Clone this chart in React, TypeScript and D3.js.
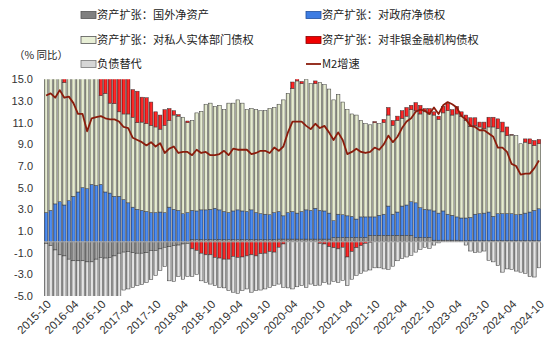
import React from 'react';
import * as d3 from 'd3';

// ---- data (contributions to M2 growth, % y/y), monthly 2015-10 .. 2024-10 ----
const months: string[] = d3.timeMonth
  .range(new Date(2015, 9, 1), new Date(2024, 10, 1))
  .map((d) => d3.timeFormat('%Y-%m')(d));

const tickLabels = [
  '2015-10', '2016-04', '2016-10', '2017-04', '2017-10', '2018-04', '2018-10',
  '2019-04', '2019-10', '2020-04', '2020-10', '2021-04', '2021-10', '2022-04',
  '2022-10', '2023-04', '2023-10', '2024-04', '2024-10',
];

const yTicks = [-5, -3, -1, 1, 3, 5, 7, 9, 11, 13, 15];

// 资产扩张：国外净资产
const foreignNet = [
  -0.15, -0.35, -0.75, -1.2, -1.3, -1.6, -1.75, -1.75, -1.75, -1.85, -1.85, -1.6, -1.45, -1.5, -1.45, -1.3,
  -1.05, -0.95, -0.9, -1.0, -1.05, -1.05, -1.0, -0.8, -0.8, -0.65, -0.5, -0.45, -0.35, -0.3, -0.2, -0.15,
  0.2, 0.2, 0.2, 0.2, 0.2, 0.2, 0.2, 0.2, 0.2, 0.2, 0.2, 0.2, 0.2, 0.2, 0.2, 0.2, 0.2, 0.2, 0.2,
  0.25, 0.25, 0.25, 0.25, 0.25, 0.25, 0.25, 0.25, 0.25, 0.25, 0.25, 0.25,
  0.4, 0.4, 0.4, 0.4, 0.4, 0.4, 0.4, 0.4,
  0.6, 0.6, 0.6, 0.6, 0.6, 0.6, 0.6, 0.6, 0.6, 0.6,
  0.4, 0.4, 0.4, 0.4,
  0.15, 0.15, 0.15, 0.15, 0.15, 0.15,
  0.1, 0.1, 0.1, 0.1, 0.1, 0.1, 0.1, 0.1, 0.1, 0.1, 0.1, 0.1, 0.1, 0.1, 0.1, 0.1, 0.1, 0.1,
];

// 资产扩张：对政府净债权
const govClaims = [
  2.7, 2.9, 3.5, 3.7, 3.4, 3.8, 4.2, 4.6, 5.0, 4.9, 5.3, 5.2, 5.3, 4.6, 4.5, 4.2,
  4.2, 3.9, 3.6, 3.2, 3.0, 2.9, 2.8, 2.7, 2.7, 2.75, 2.7, 3.2, 3.0, 2.9, 2.6, 2.7,
  2.7, 2.65, 2.75, 2.75, 2.8, 2.9, 2.75, 2.6, 2.5, 2.65, 2.75, 2.65, 2.6, 2.75, 2.5, 2.4, 2.35, 2.3, 2.5,
  2.55, 2.15, 2.45, 2.55, 2.4, 2.55, 2.7, 2.65, 2.85, 2.65, 2.6, 2.4,
  1.55, 2.15, 2.1, 2.0, 1.95, 1.7, 1.9, 1.9,
  1.7, 1.7, 1.85, 1.95, 2.7, 1.95, 2.15, 2.7, 2.8, 3.1,
  3.2, 2.75, 2.6, 2.55,
  2.7, 2.5, 2.7, 2.4, 2.3, 2.15,
  2.1, 2.1, 2.15, 2.45, 2.5, 2.55, 2.65, 2.25, 2.5, 2.5, 2.5, 2.5, 2.4, 2.45, 2.55, 2.65, 2.8, 2.95,
];

// 资产扩张：对私人实体部门债权
const privateClaims = [
  12.6, 12.4, 11.8, 11.6, 11.3, 11.4, 11.0, 10.7, 10.3, 10.4, 9.9, 10.0, 8.2, 9.1, 8.3, 8.55,
  7.8, 7.9, 8.2, 8.3, 8.0, 8.15, 8.1, 8.05, 7.9, 7.65, 8.05, 8.0, 8.7, 8.7, 8.9, 8.3,
  8.3, 9.05, 9.1, 9.75, 9.8, 9.4, 9.65, 9.4, 10.1, 9.95, 10.15, 9.95, 9.4, 9.35, 9.5, 9.5, 9.55, 9.8, 9.7,
  9.9, 10.7, 11.0, 11.35, 12.2, 11.8, 12.05, 11.7, 11.5, 11.8, 11.65, 11.45,
  11.15, 11.05, 10.4, 9.8, 9.45, 9.6, 8.9, 8.6,
  8.5, 8.7, 8.45, 8.45, 8.4, 8.2, 8.45, 8.1, 8.2, 8.5,
  8.5, 8.65, 9.0, 8.85,
  8.85, 8.65, 9.05, 9.55, 9.25, 9.5,
  9.4, 9.0, 8.4, 8.2, 8.0, 7.8, 7.85, 8.25, 7.85, 7.55, 7.2, 7.25, 7.3, 6.5, 6.55, 6.3, 6.0, 6.0,
];

// 资产扩张：对非银金融机构债权
const nonBankClaims = [
  3.0, 3.2, 3.4, 3.9, 3.8, 3.9, 3.7, 3.4, 3.5, 3.6, 3.5, 3.6, 3.9, 3.7, 3.8, 3.6,
  3.5, 3.4, 3.3, 2.55, 2.9, 2.3, 2.4, 2.15, 1.4, 1.3, 1.45, 1.1, 0.4, 0.15, 0.0, 0.15,
  -0.65, -0.8, -1.05, -1.2, -1.2, -1.45, -1.5, -1.6, -1.6, -1.35, -1.45, -1.4, -1.3, -1.2, -1.3, -1.1, -1.05, -0.9, -0.95,
  -0.5, -0.2, 0.0, 0.6, 0.3, 0.2, 0.0, 0.0, 0.25, -0.15, -0.2, -0.45,
  -0.55, -0.65, -0.5, -1.4, -0.9, -0.55, -0.35, -0.15,
  -0.05, 0.1, 0.0, 0.3, 0.7, 0.45, 0.4, 0.7, 0.8, 0.4,
  0.75, 0.8, 0.3, 0.5,
  0.3, 0.3, 0.6, 0.65, 0.5, 0.7,
  0.4, 0.5, 0.8, 0.7, 0.45, 0.6, 0.9, 0.9, 0.9, 0.9, 0.8, 0.05, 0.0, 0.0, 0.3, 0.45, 0.45, 0.4,
];

// 负债替代
const liabilitySub = [
  -5.2, -5.1, -5.0, -4.8, -4.9, -4.6, -4.5, -4.6, -4.5, -4.3, -4.4, -4.6, -4.7, -4.5, -4.6, -4.8,
  -4.9, -3.5, -3.45, -3.2, -3.0, -2.9, -2.75, -2.7, -2.3, -2.0, -1.8, -3.15, -3.3, -2.9, -3.25, -3.05,
  -2.55, -2.2, -2.55, -2.55, -2.7, -2.6, -2.7, -2.65, -2.9, -3.3, -3.3, -3.1, -3.05, -3.45, -3.2, -3.35, -3.3, -3.3, -3.1,
  -3.4, -4.0, -4.25, -4.35, -4.15, -4.05, -4.2, -3.9, -4.05, -3.85, -3.55, -3.45,
  -3.1, -3.1, -3.05, -2.65, -2.55, -2.55, -2.55, -2.55,
  -2.55, -2.4, -2.4, -2.5, -2.55, -2.25, -1.75, -1.55, -1.4, -1.25,
  -0.95, -0.7, -0.5, -0.6,
  -0.3, -0.1, 0, 0, 0, 0,
  0, -0.3, -0.85, -1.0, -0.95, -0.85, -1.7, -1.85, -2.2, -2.8, -2.5, -2.55, -2.7, -2.8, -2.9, -3.2, -3.25, -2.4,
];

// M2增速
const m2Growth = [
  13.5, 13.7, 13.3,
  14.0, 13.3, 13.4, 12.8, 11.8, 11.8, 10.2, 11.4, 11.5, 11.6, 11.4, 11.3,
  11.3, 11.1, 10.6, 10.5, 9.6, 9.4, 9.2, 8.9, 9.2, 8.8, 9.1, 8.2,
  8.6, 8.8, 8.2, 8.3, 8.3, 8.0, 8.5, 8.2, 8.3, 8.0, 8.0, 8.1,
  8.4, 8.0, 8.6, 8.5, 8.5, 8.5, 8.1, 8.2, 8.4, 8.4, 8.2, 8.7,
  8.4, 8.8, 10.1, 11.1, 11.1, 11.1, 10.7, 10.4, 10.9, 10.5, 10.7, 10.1,
  9.4, 10.1, 9.4, 8.1, 8.3, 8.6, 8.3, 8.2, 8.3, 8.7, 8.5, 9.0,
  9.8, 9.2, 9.7, 10.5, 11.1, 11.4, 12.0, 12.2, 12.1, 11.8, 12.4, 11.8,
  12.6, 12.9, 12.7, 12.4, 11.6, 11.3, 10.7, 10.6, 10.3, 10.3, 10.0, 9.7,
  8.7, 8.7, 8.3, 7.2, 7.0, 6.2, 6.3, 6.3, 6.8, 7.5,
];

const seriesKeys = ['fa', 'gov', 'priv', 'nbfi', 'liab'] as const;
const seriesNames: Record<string, string> = {
  fa: '资产扩张：国外净资产',
  gov: '资产扩张：对政府净债权',
  priv: '资产扩张：对私人实体部门债权',
  nbfi: '资产扩张：对非银金融机构债权',
  liab: '负债替代',
};

const grads: Record<string, [string, string, string]> = {
  fa: ['#5e5e5e', '#a8a8a8', '#7a7a7a'],
  gov: ['#1d4fae', '#4d8ef2', '#2a64cc'],
  priv: ['#9ea386', '#e6ecd2', '#c3c8a8'],
  nbfi: ['#b00000', '#ff2a2a', '#e00000'],
  liab: ['#8e8e8e', '#e4e4e4', '#b8b8b8'],
};

const W = 550;
const H = 355;
const plotTop = 79.3;
const plotBottom = 296;
const plotLeft = 44;
const plotRight = 541;

export default function App() {
  const rows = months.map((m, i) => ({
    fa: foreignNet[i],
    gov: govClaims[i],
    priv: privateClaims[i],
    nbfi: nonBankClaims[i],
    liab: liabilitySub[i],
  }));

  const x = d3
    .scaleBand<number>()
    .domain(d3.range(months.length))
    .range([plotLeft, plotRight])
    .paddingInner(0.22)
    .paddingOuter(0.06);
  const y = d3.scaleLinear().domain([-5, 15]).range([plotBottom, plotTop]);

  const stacked = d3
    .stack<any>()
    .keys(seriesKeys as any)
    .offset(d3.stackOffsetDiverging)(rows);

  const bw = x.bandwidth();
  const line = d3
    .line<number>()
    .x((_, i) => (x(i) as number) + bw / 2)
    .y((d) => y(d))
    .curve(d3.curveLinear);

  const font = '"Liberation Sans", Arial, sans-serif';
  const cjk = '"Noto Sans CJK SC", "Liberation Sans", sans-serif';

  const legendItems = [
    { key: 'fa', x: 81, y: 15 },
    { key: 'gov', x: 306, y: 15 },
    { key: 'priv', x: 81, y: 40 },
    { key: 'nbfi', x: 306, y: 40 },
    { key: 'liab', x: 81, y: 64 },
  ];
  const swatchFill: Record<string, string> = {
    fa: '#808080',
    gov: '#3d7ce2',
    priv: '#e8efd6',
    nbfi: '#f00000',
    liab: '#d6d6d6',
  };
  const swatchStroke: Record<string, string> = {
    fa: '#555',
    gov: '#1f4f9e',
    priv: '#555',
    nbfi: '#8a0000',
    liab: '#777',
  };

  return (
    <svg
      width={W}
      height={H}
      viewBox={`0 0 ${W} ${H}`}
      style={{ position: 'absolute', left: 0, top: 0, background: '#fff' }}
    >
      <defs>
        {Object.entries(grads).map(([k, c]) => (
          <linearGradient key={k} id={`g-${k}`} x1="0" x2="1" y1="0" y2="0">
            <stop offset="0" stopColor={c[0]} />
            <stop offset="0.45" stopColor={c[1]} />
            <stop offset="0.7" stopColor={c[1]} />
            <stop offset="1" stopColor={c[2]} />
          </linearGradient>
        ))}
        <clipPath id="plot-clip">
          <rect x={plotLeft - 2} y={plotTop} width={plotRight - plotLeft + 4} height={plotBottom - plotTop} />
        </clipPath>
      </defs>

      {/* legend */}
      {legendItems.map((it) => (
        <g key={it.key}>
          <rect
            x={it.x}
            y={it.y - 3.5}
            width={15}
            height={7}
            fill={swatchFill[it.key]}
            stroke={swatchStroke[it.key]}
            strokeWidth={0.8}
          />
          <text x={it.x + 16} y={it.y} dy="0.36em" fontSize={11.2} fontFamily={cjk} fill="#222">
            {seriesNames[it.key]}
          </text>
        </g>
      ))}
      <line x1={306} x2={321} y1={64} y2={64} stroke="#8b1c0c" strokeWidth={1.8} />
      <text x={322} y={64} dy="0.36em" fontSize={11.2} fontFamily={cjk} fill="#222">
        M2增速
      </text>
      <text x={14} y={55} dy="0.36em" fontSize={10.5} fontFamily={cjk} fill="#222">
        （% 同比）
      </text>

      {/* y axis labels */}
      {yTicks.map((t) => (
        <text
          key={t}
          x={33}
          y={y(t)}
          dy="0.36em"
          textAnchor="end"
          fontSize={11}
          fontFamily={font}
          fill="#333"
        >
          {t.toFixed(1)}
        </text>
      ))}

      {/* bars */}
      <g clipPath="url(#plot-clip)">
        {stacked.map((s) => (
          <g key={s.key} fill={`url(#g-${s.key})`} stroke="#3a3a3a" strokeWidth={0.5}>
            {s.map((d, i) => {
              const y0 = y(d[0]);
              const y1 = y(d[1]);
              const h = Math.abs(y0 - y1);
              if (h < 0.05) return null;
              return (
                <rect key={i} x={x(i)} y={Math.min(y0, y1)} width={bw} height={h} />
              );
            })}
          </g>
        ))}
        <line x1={plotLeft} x2={plotRight} y1={y(0)} y2={y(0)} stroke="#d0d0d0" strokeWidth={0.8} />
        <path d={line(m2Growth) || ''} fill="none" stroke="#8b1c0c" strokeWidth={1.8} strokeLinejoin="round" />
      </g>

      {/* x axis labels */}
      {tickLabels.map((lab) => {
        const i = months.indexOf(lab);
        const cx = (x(i) as number) + bw / 2 + 3;
        const cy = 302;
        return (
          <text
            key={lab}
            x={cx}
            y={cy}
            textAnchor="end"
            dy="0.35em"
            fontSize={11.5}
            fontFamily={font}
            fill="#333"
            transform={`rotate(-45 ${cx} ${cy})`}
          >
            {lab}
          </text>
        );
      })}
    </svg>
  );
}
